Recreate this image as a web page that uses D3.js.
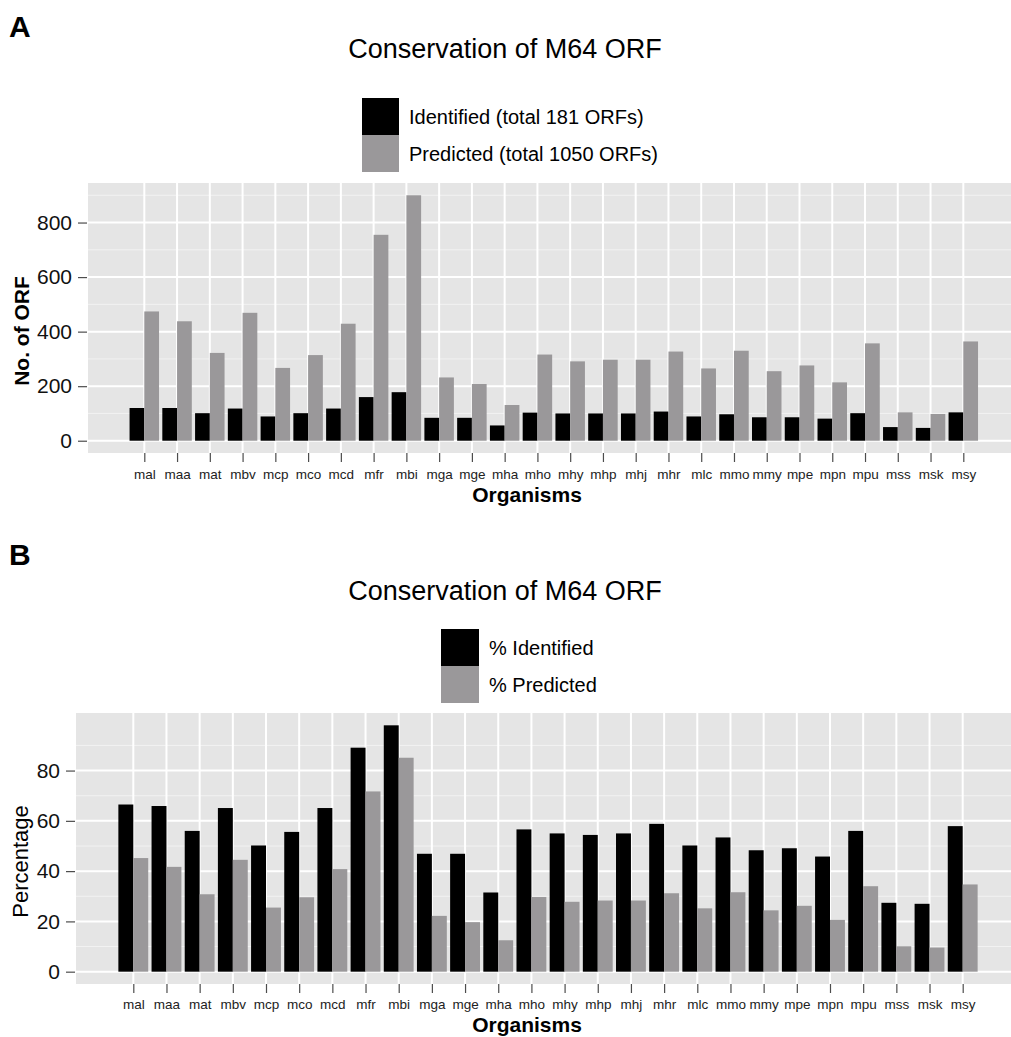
<!DOCTYPE html>
<html>
<head>
<meta charset="utf-8">
<script src="https://cdn.jsdelivr.net/npm/d3@7"></script>
<style>
  body { margin: 0; background: #fff; }
  svg text { font-family: "Liberation Sans", Arial, sans-serif; }
</style>
</head>
<body>
<svg id="chart" width="1011" height="1037"></svg>
<script>
// organisms on the x axis (same order in both panels)
const organisms = ["mal", "maa", "mat", "mbv", "mcp", "mco", "mcd", "mfr", "mbi", "mga", "mge", "mha", "mho",
    "mhy", "mhp", "mhj", "mhr", "mlc", "mmo", "mmy", "mpe", "mpn", "mpu", "mss", "msk", "msy"];

// panel A: number of conserved ORFs
const identifiedCounts = [120, 120, 101, 118, 89, 101, 118, 160, 178, 84, 84, 56, 103,
    100, 100, 100, 107, 89, 97, 86, 86, 81, 101, 50, 47, 104];
const predictedCounts = [474, 438, 322, 469, 267, 314, 429, 755, 900, 232, 208, 131, 316,
    291, 297, 297, 327, 265, 330, 255, 276, 214, 357, 104, 98, 364];

// panel B: percentage of conserved ORFs
const identifiedPct = [66.5, 65.9, 56.0, 65.1, 50.2, 55.6, 65.1, 89.1, 98.0, 46.9, 46.9, 31.5, 56.6,
    55.0, 54.4, 55.0, 58.8, 50.2, 53.4, 48.3, 49.1, 45.8, 56.0, 27.4, 27.0, 57.9];
const predictedPct = [45.2, 41.7, 30.8, 44.5, 25.5, 29.6, 40.8, 71.7, 85.1, 22.2, 19.7, 12.5, 29.7,
    27.8, 28.3, 28.3, 31.2, 25.2, 31.6, 24.4, 26.2, 20.6, 34.0, 10.1, 9.6, 34.7];

const countTicks = [0, 200, 400, 600, 800];
const countMinor = [100, 300, 500, 700, 900];
const pctTicks = [0, 20, 40, 60, 80];
const pctMinor = [10, 30, 50, 70, 90];

const legendA = ["Identified (total 181 ORFs)", "Predicted (total 1050 ORFs)"];
const legendB = ["% Identified", "% Predicted"];
const colors = ["#000000", "#9a989a"];

const svg = d3.select("#chart");

function drawPanel(opts) {
    const g = svg.append("g");
    const { left, right, top, bottom, firstX, lastX } = opts;

    const maxV = d3.max(opts.series.flat());
    const pad = maxV * 0.05;
    const y = d3.scaleLinear().domain([-pad, maxV + pad]).range([bottom, top]);
    const x = d3.scalePoint().domain(organisms).range([firstX, lastX]);
    const step = x.step();
    const sub = d3.scaleBand().domain([0, 1]).range([-0.45 * step, 0.45 * step]);

    // panel background
    g.append("rect")
        .attr("x", left).attr("y", top)
        .attr("width", right - left).attr("height", bottom - top)
        .attr("fill", "#e5e5e5");

    // grid
    g.selectAll(".minor").data(opts.minor).enter().append("line")
        .attr("x1", left).attr("x2", right)
        .attr("y1", d => y(d)).attr("y2", d => y(d))
        .attr("stroke", "#f2f2f2").attr("stroke-width", 1);
    g.selectAll(".major").data(opts.ticks).enter().append("line")
        .attr("x1", left).attr("x2", right)
        .attr("y1", d => y(d)).attr("y2", d => y(d))
        .attr("stroke", "#ffffff").attr("stroke-width", 2);
    g.selectAll(".vgrid").data(organisms).enter().append("line")
        .attr("x1", d => x(d)).attr("x2", d => x(d))
        .attr("y1", top).attr("y2", bottom)
        .attr("stroke", "#ffffff").attr("stroke-width", 2);

    // bars
    opts.series.forEach((values, i) => {
        g.selectAll(".bar" + i)
            .data(values)
            .enter().append("rect")
            .attr("x", (d, j) => x(organisms[j]) + sub(i))
            .attr("y", d => y(d))
            .attr("width", sub.bandwidth())
            .attr("height", d => y(0) - y(d))
            .attr("fill", colors[i]);
    });

    // axes
    const yAxis = g.append("g")
        .attr("transform", `translate(${left - 1}, 0)`)
        .call(d3.axisLeft(y).tickValues(opts.ticks).tickSize(9).tickPadding(6));
    const xAxis = g.append("g")
        .attr("transform", `translate(0, ${bottom})`)
        .call(d3.axisBottom(x).tickSize(9).tickPadding(opts.xPad));
    [yAxis, xAxis].forEach(a => {
        a.select(".domain").remove();
        a.selectAll(".tick line").attr("stroke", "#4d4d4d").attr("stroke-width", 1.2);
    });
    yAxis.selectAll("text").attr("font-size", 21).attr("fill", "#111");
    xAxis.selectAll("text").attr("font-size", 13.5).attr("fill", "#222");

    // axis titles
    g.append("text")
        .attr("x", 527).attr("y", bottom + opts.xTitleOffset)
        .attr("text-anchor", "middle")
        .attr("font-size", 21).attr("font-weight", "bold")
        .text("Organisms");
    g.append("text")
        .attr("transform", `translate(${opts.yTitleX}, ${(top + bottom) / 2 + opts.yTitleShift}) rotate(-90)`)
        .attr("text-anchor", "middle")
        .attr("font-size", opts.yTitleSize).attr("font-weight", opts.yTitleWeight)
        .text(opts.yTitle);

    // plot title and panel letter
    g.append("text")
        .attr("x", 505).attr("y", opts.titleY)
        .attr("text-anchor", "middle")
        .attr("font-size", 27)
        .text("Conservation of M64 ORF");
    g.append("text")
        .attr("x", 9).attr("y", opts.letterY)
        .attr("font-size", 30).attr("font-weight", "bold")
        .text(opts.letter);

    // legend
    const leg = g.append("g").attr("transform", `translate(${opts.legendX}, ${opts.legendY})`);
    opts.legend.forEach((label, i) => {
        leg.append("rect")
            .attr("x", 0).attr("y", i * 37)
            .attr("width", opts.keyW).attr("height", 37)
            .attr("fill", colors[i]);
        leg.append("text")
            .attr("x", opts.keyW + 10).attr("y", i * 37 + 18.5 + 7.5)
            .attr("font-size", 20)
            .text(label);
    });
}

drawPanel({
    letter: "A", letterY: 37, titleY: 58,
    left: 88, right: 1011, top: 183, bottom: 453,
    firstX: 144.3, lastX: 963.3,
    series: [identifiedCounts, predictedCounts],
    ticks: countTicks, minor: countMinor,
    xPad: 7, xTitleOffset: 49,
    yTitle: "No. of ORF", yTitleX: 29, yTitleShift: 13, yTitleSize: 21, yTitleWeight: "bold",
    legend: legendA, legendX: 362, legendY: 98, keyW: 37
});

drawPanel({
    letter: "B", letterY: 565, titleY: 600,
    left: 76, right: 1011, top: 713, bottom: 984,
    firstX: 133.3, lastX: 962.7,
    series: [identifiedPct, predictedPct],
    ticks: pctTicks, minor: pctMinor,
    xPad: 6.5, xTitleOffset: 48,
    yTitle: "Percentage", yTitleX: 28, yTitleShift: 13, yTitleSize: 22, yTitleWeight: "normal",
    legend: legendB, legendX: 441, legendY: 629, keyW: 38
});
</script>
</body>
</html>
